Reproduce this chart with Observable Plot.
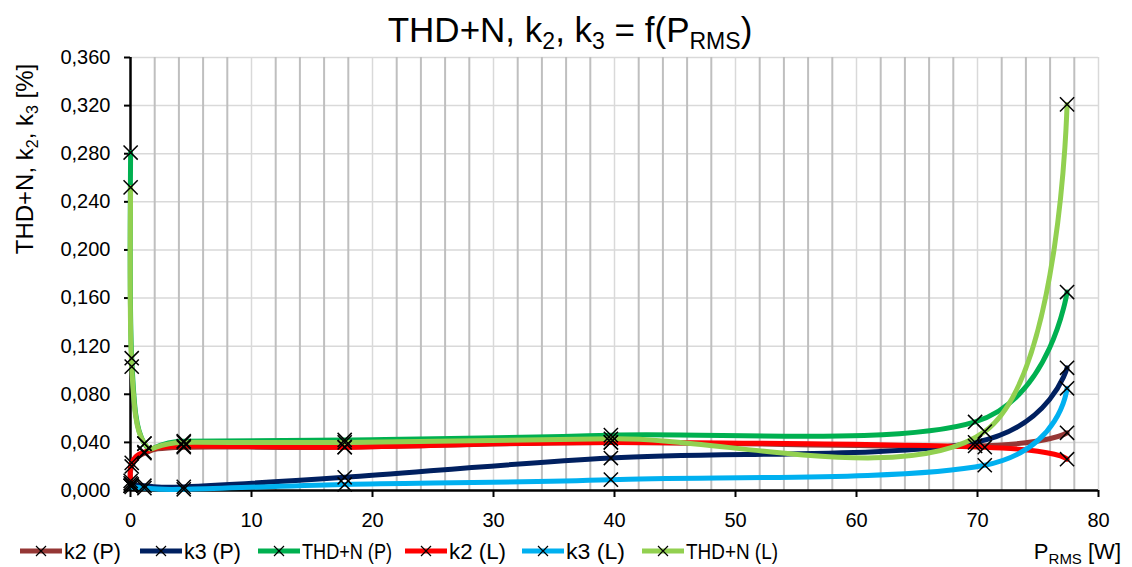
<!DOCTYPE html>
<html><head><meta charset="utf-8">
<script src="https://cdn.jsdelivr.net/npm/d3@7"></script>
<script src="https://cdn.jsdelivr.net/npm/@observablehq/plot@0.6"></script>
<style>body{margin:0;background:#fff} svg{display:block}</style>
</head><body><div id="chart"></div>
<script>
// Output power [W] at each measuring point
const powerP = [0.01, 0.1, 1.15, 4.4, 17.7, 39.7, 69.8, 77.4];
const powerL = [0.01, 0.1, 1.15, 4.4, 17.7, 39.7, 70.6, 77.4];
// Distortion values [%]
const k2P  = [0.004, 0.020, 0.031, 0.036, 0.036, 0.040, 0.037, 0.048];
const k3P  = [0.006, 0.005, 0.004, 0.003, 0.011, 0.027, 0.040, 0.102];
const thdP = [0.281, 0.110, 0.039, 0.041, 0.042, 0.046, 0.057, 0.165];
const k2L  = [0.008, 0.023, 0.032, 0.037, 0.036, 0.040, 0.036, 0.026];
const k3L  = [0.004, 0.003, 0.002, 0.001, 0.005, 0.009, 0.021, 0.085];
const thdL = [0.252, 0.103, 0.039, 0.040, 0.040, 0.043, 0.049, 0.321];

const seriesNames = ["k2 (P)", "k3 (P)", "THD+N (P)", "k2 (L)", "k3 (L)", "THD+N (L)"];
const seriesColors = ["#953735", "#002060", "#00B050", "#FF0000", "#00B0F0", "#92D050"];
const xTicks = [0, 10, 20, 30, 40, 50, 60, 70, 80];
const yTicks = [0, 0.04, 0.08, 0.12, 0.16, 0.2, 0.24, 0.28, 0.32, 0.36];

const seriesX = [powerP, powerP, powerP, powerL, powerL, powerL];
const seriesY = [k2P, k3P, thdP, k2L, k3L, thdL];
const rows = seriesNames.flatMap((name, i) => seriesY[i].map((v, j) => ({name, x: seriesX[i][j], y: v})));

const minorX = d3.range(2, 80, 2).filter(v => v % 10 !== 0);
const majorX = xTicks.filter(v => v > 0);
const fmtY = d => d3.format(".3f")(d).replace(".", ",");
const FONT = "'Liberation Sans', Arial, sans-serif";

const chart = Plot.plot({
  width: 1132, height: 567,
  marginLeft: 130, marginRight: 34, marginTop: 57, marginBottom: 77,
  style: {fontFamily: FONT, fontSize: "20px", color: "#000", background: "#fff", overflow: "visible"},
  x: {domain: [0, 80]},
  y: {domain: [0, 0.36]},
  color: {domain: seriesNames, range: seriesColors},
  marks: [
    Plot.ruleY(yTicks.filter(v => v > 0), {stroke: "#d9d9d9", strokeWidth: 1.5}),
    Plot.ruleX(majorX, {stroke: "#d9d9d9", strokeWidth: 1.5}),
    Plot.ruleX(minorX, {stroke: "#bfbfbf", strokeWidth: 2}),
    Plot.axisY({ticks: yTicks, tickFormat: fmtY, tickSize: 6, tickPadding: 14, label: null, strokeWidth: 2}),
    Plot.axisX({ticks: xTicks, tickFormat: d => String(d), tickSize: 7, tickPadding: 15, label: null, strokeWidth: 2}),
    Plot.ruleX([0], {stroke: "#000", strokeWidth: 2.5}),
    Plot.ruleY([0], {stroke: "#000", strokeWidth: 2.5}),
    Plot.line(rows, {x: "x", y: "y", z: "name", stroke: "name", strokeWidth: 5, curve: "cardinal"}),
    Plot.dot(rows, {x: "x", y: "y", symbol: "times", r: 6.5, stroke: "#000", strokeWidth: 1.5})
  ]
});
document.getElementById("chart").appendChild(chart);

const svg = d3.select(chart);
function rich(parent, parts, size, subSize, shift) {
  let prevSub = false;
  parts.forEach(([t, sub]) => {
    let dy = 0;
    if (sub && !prevSub) dy = shift;
    if (!sub && prevSub) dy = -shift;
    parent.append("tspan").attr("font-size", sub ? subSize : size).attr("dy", dy).text(t);
    prevSub = sub;
  });
}
// Title
const title = svg.append("text").attr("x", 570).attr("y", 42).attr("text-anchor", "middle")
  .attr("font-family", FONT).attr("fill", "#000");
rich(title, [["THD+N, k", false], ["2", true], [", k", false], ["3", true], [" = f(P", false], ["RMS", true], [")", false]], 35, 23, 7);

// Y label
const ylab = svg.append("text").attr("transform", "translate(33,159) rotate(-90)").attr("text-anchor", "middle")
  .attr("font-family", FONT).attr("fill", "#000");
rich(ylab, [["THD+N, k", false], ["2", true], [", k", false], ["3", true], [" [%]", false]], 24, 16, 5);

// X label
const xlab = svg.append("text").attr("x", 1121).attr("y", 559).attr("text-anchor", "end")
  .attr("font-family", FONT).attr("fill", "#000");
rich(xlab, [["P", false], ["RMS", true], [" [W]", false]], 22, 15, 5);

// Legend (Excel-style line + marker samples)
const legendStart = [20, 140, 258, 405, 522, 642];
const legendEnd = [121, 241, 392, 506, 625, 778];
seriesNames.forEach((name, i) => {
  const lx = legendStart[i];
  const g = svg.append("g");
  g.append("line").attr("x1", lx).attr("x2", lx + 42).attr("y1", 551).attr("y2", 551)
    .attr("stroke", seriesColors[i]).attr("stroke-width", 5);
  const cx = lx + 21;
  g.append("path").attr("d", `M${cx-5},${551-5}L${cx+5},${551+5}M${cx-5},${551+5}L${cx+5},${551-5}`)
    .attr("stroke", "#000").attr("stroke-width", 1.2);
  g.append("text").attr("x", lx + 44).attr("y", 559).attr("text-anchor", "start")
    .attr("font-family", FONT).attr("font-size", 22).attr("fill", "#000")
    .attr("textLength", legendEnd[i] - lx - 44).attr("lengthAdjust", "spacingAndGlyphs")
    .text(name);
});
</script></body></html>
